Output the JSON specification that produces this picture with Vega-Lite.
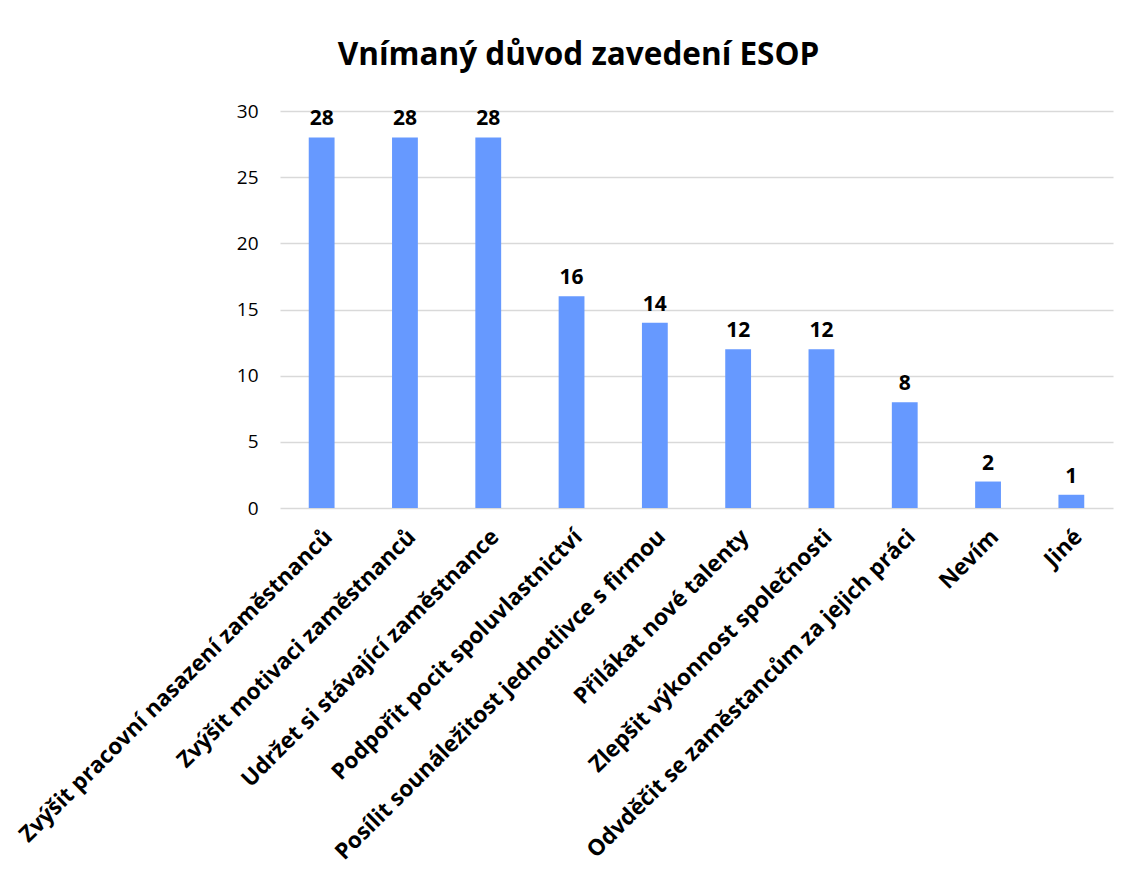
{
  "$schema": "https://vega.github.io/schema/vega-lite/v6.json",
  "autosize": "none",
  "width": 833,
  "height": 397,
  "padding": {"left": 280, "top": 111, "right": 27, "bottom": 366},
  "background": "white",
  "title": {
    "text": "Vnímaný důvod zavedení ESOP",
    "font": "Open Sans",
    "fontSize": 31.5,
    "fontWeight": "bold",
    "color": "#000000",
    "anchor": "middle",
    "frame": "group",
    "dx": -118,
    "offset": 31
  },
  "data": {
    "values": [
      {"duvod": "Zvýšit pracovní nasazení zaměstnanců", "pocet": 28},
      {"duvod": "Zvýšit motivaci zaměstnanců", "pocet": 28},
      {"duvod": "Udržet si stávající zaměstnance", "pocet": 28},
      {"duvod": "Podpořit pocit spoluvlastnictví", "pocet": 16},
      {"duvod": "Posílit sounáležitost jednotlivce s firmou", "pocet": 14},
      {"duvod": "Přilákat nové talenty", "pocet": 12},
      {"duvod": "Zlepšit výkonnost společnosti", "pocet": 12},
      {"duvod": "Odvděčit se zaměstancům za jejich práci", "pocet": 8},
      {"duvod": "Nevím", "pocet": 2},
      {"duvod": "Jiné", "pocet": 1}
    ]
  },
  "encoding": {
    "x": {
      "field": "duvod",
      "type": "nominal",
      "sort": null,
      "title": null,
      "scale": {"paddingInner": 0.69, "paddingOuter": 0.345},
      "axis": {
        "labelAngle": -45,
        "labelAlign": "right",
        "labelBaseline": "middle",
        "labelFont": "Open Sans",
        "labelFontSize": 22.5,
        "labelFontWeight": "bold",
        "labelColor": "#000000",
        "labelPadding": 25,
        "labelOffset": 7,
        "labelLimit": 0,
        "ticks": false,
        "domain": false
      }
    },
    "y": {
      "field": "pocet",
      "type": "quantitative",
      "title": null,
      "scale": {"domain": [0, 30], "nice": false},
      "axis": {
        "values": [0, 5, 10, 15, 20, 25, 30],
        "labelFont": "Open Sans",
        "labelFontSize": 19,
        "labelColor": "#000000",
        "labelPadding": 22,
        "ticks": false,
        "domain": false,
        "gridColor": "#d9d9d9",
        "gridWidth": 1.5
      }
    }
  },
  "layer": [
    {"mark": {"type": "bar", "color": "#6699ff"}},
    {
      "mark": {
        "type": "text",
        "baseline": "bottom",
        "dy": -8,
        "font": "Open Sans",
        "fontSize": 21,
        "fontWeight": "bold",
        "color": "#000000"
      },
      "encoding": {"text": {"field": "pocet", "type": "quantitative"}}
    }
  ],
  "config": {"view": {"stroke": null}}
}
